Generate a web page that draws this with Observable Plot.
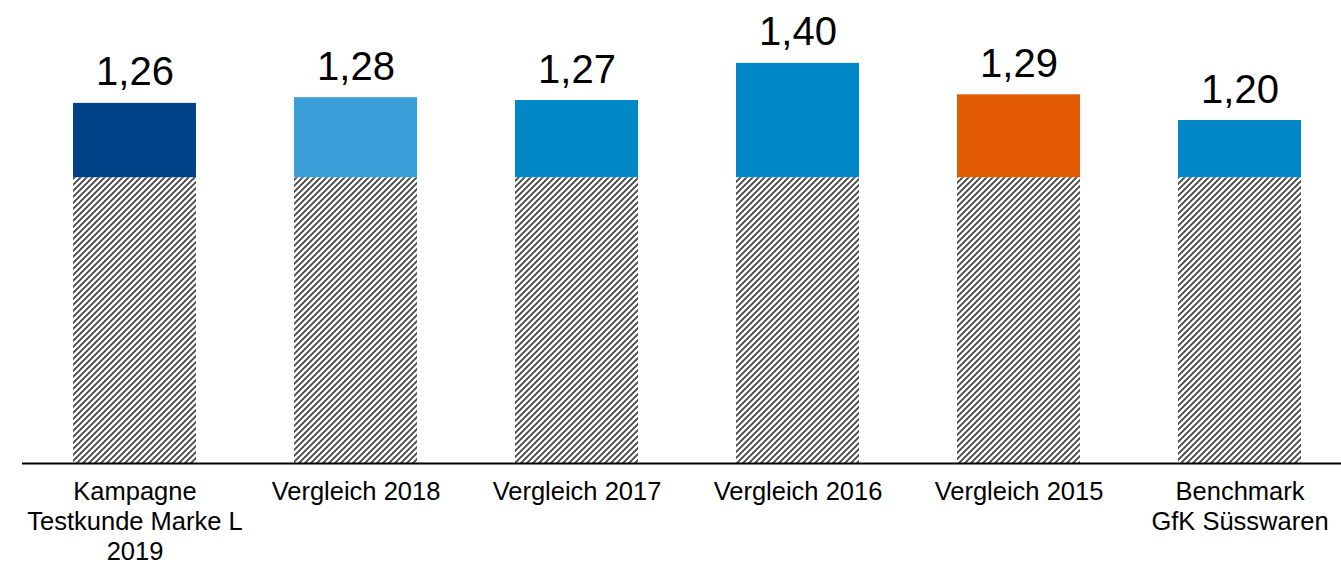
<!DOCTYPE html>
<html>
<head>
<meta charset="utf-8">
<script src="https://cdn.jsdelivr.net/npm/d3@7"></script>
<script src="https://cdn.jsdelivr.net/npm/@observablehq/plot@0.6"></script>
<style>
  html, body { margin: 0; padding: 0; background: #fff; }
  #chart svg { display: block; font-family: Arial, "Liberation Sans", sans-serif; }
</style>
</head>
<body>
<div id="chart"></div>
<script>
const categories = [
  "Kampagne\nTestkunde Marke L\n2019",
  "Vergleich 2018",
  "Vergleich 2017",
  "Vergleich 2016",
  "Vergleich 2015",
  "Benchmark\nGfK Süsswaren"
];
const values = [1.26, 1.28, 1.27, 1.40, 1.29, 1.20];
const baseValue = [1.0, 1.0, 1.0, 1.0, 1.0, 1.0];
const colors = ["#004287", "#3a9fd8", "#0087c8", "#0087c8", "#e35a05", "#0087c8"];

const data = categories.map((c, i) => ({cat: c, value: values[i], base: baseValue[i], color: colors[i]}));
const fmt = v => d3.format(".2f")(v).replace(".", ",");

const plot = Plot.plot({
  width: 1341,
  height: 563,
  marginTop: 0,
  marginLeft: 22,
  marginRight: 0,
  marginBottom: 100,
  style: {fontFamily: 'Arial, "Liberation Sans", sans-serif', background: "#fff", overflow: "visible"},
  x: {domain: categories, range: [22.75, 1351.75], paddingInner: 0.445, paddingOuter: 0.2225, axis: null},
  y: {domain: [0, 1.62], axis: null},
  marks: [
    Plot.barY(data, {x: "cat", y1: 0, y2: "base", fill: "url(#hatch)"}),
    Plot.barY(data, {x: "cat", y1: "base", y2: "value", fill: "color"}),
    Plot.ruleY([0], {stroke: "#000", strokeWidth: 2}),
    Plot.text(data, {x: "cat", y: "value", text: d => fmt(d.value), lineAnchor: "bottom", dy: -18, fontSize: 40, fill: "#000"}),
    Plot.text(data, {x: "cat", y: 0, text: "cat", lineAnchor: "top", dy: 15, fontSize: 25.5, lineHeight: 1.18, fill: "#000"})
  ]
});

const ns = "http://www.w3.org/2000/svg";
const defs = document.createElementNS(ns, "defs");
defs.innerHTML = `<pattern id="hatch" patternUnits="userSpaceOnUse" width="6" height="6">
  <rect width="6" height="6" fill="#fff"/>
  <path d="M-1.5,1.5 l3,-3 M0,6 l6,-6 M4.5,7.5 l3,-3" stroke="#444" stroke-width="1.8"/>
</pattern>`;
plot.insertBefore(defs, plot.firstChild);
document.getElementById("chart").appendChild(plot);
</script>
</body>
</html>
